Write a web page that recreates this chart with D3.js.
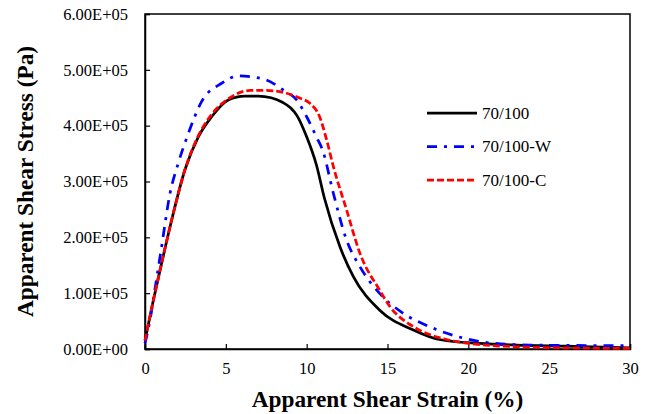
<!DOCTYPE html>
<html>
<head>
<meta charset="utf-8">
<script src="https://cdn.jsdelivr.net/npm/d3@7"></script>
<style>
  body { margin: 0; background: #fff; }
</style>
</head>
<body>
<div id="chart"></div>
<script>
// strain (%) and apparent shear stress (Pa)
const strainBase = [0, 0.5, 1, 1.65, 2.47, 3.3, 4.12, 5.15, 6.18, 7.0, 7.8, 8.5, 9.0, 9.4, 10.0, 10.6, 11.1, 12.06, 12.88, 14.5, 16.6, 18.2, 20.7, 23, 26, 30];
const stressBase = [0.15e5, 0.85e5, 1.5e5, 2.31e5, 3.21e5, 3.80e5, 4.16e5, 4.46e5, 4.53e5, 4.53e5, 4.50e5, 4.42e5, 4.32e5, 4.18e5, 3.80e5, 3.30e5, 2.70e5, 1.83e5, 1.30e5, 0.70e5, 0.34e5, 0.17e5, 0.10e5, 0.07e5, 0.05e5, 0.02e5];

const strainW = [0, 0.3, 0.62, 1.0, 1.55, 2.06, 2.68, 3.5, 4.74, 5.77, 6.7, 7.5, 8.55, 9.38, 10.0, 10.6, 11.0, 11.65, 12.47, 13.3, 14.5, 15.97, 17.6, 19.5, 21.3, 23.8, 30];
const stressW = [0.1e5, 0.5e5, 1.08e5, 1.78e5, 2.79e5, 3.33e5, 3.86e5, 4.43e5, 4.76e5, 4.89e5, 4.87e5, 4.82e5, 4.64e5, 4.46e5, 4.16e5, 3.80e5, 3.55e5, 2.79e5, 1.95e5, 1.47e5, 1.0e5, 0.64e5, 0.40e5, 0.21e5, 0.11e5, 0.07e5, 0.06e5];

const strainC = [0, 0.5, 1, 1.65, 2.47, 3.3, 4.12, 5.26, 6.5, 7.5, 8.76, 9.6, 10.2, 10.8, 11.24, 11.65, 12.47, 13.3, 14.5, 15.15, 16.6, 18.66, 20.7, 23, 26, 30];
const stressC = [0.15e5, 0.85e5, 1.5e5, 2.31e5, 3.21e5, 3.82e5, 4.20e5, 4.50e5, 4.63e5, 4.63e5, 4.58e5, 4.49e5, 4.40e5, 4.16e5, 3.74e5, 3.27e5, 2.49e5, 1.71e5, 1.06e5, 0.76e5, 0.40e5, 0.17e5, 0.08e5, 0.04e5, 0.02e5, 0.01e5];

const seriesNames = ["70/100", "70/100-W", "70/100-C"];
const xTicks = [0, 5, 10, 15, 20, 25, 30];
const yTicks = [0, 1e5, 2e5, 3e5, 4e5, 5e5, 6e5];

const FONT = "Liberation Serif";

const width = 654, height = 414;
const margin = { left: 145, right: 24, top: 14, bottom: 65 };

const svg = d3.select("#chart").append("svg")
    .attr("width", width).attr("height", height);

const x = d3.scaleLinear().domain([0, 30]).range([margin.left, width - margin.right]);
const y = d3.scaleLinear().domain([0, 6e5]).range([height - margin.bottom, margin.top]);

// frame
svg.append("rect")
    .attr("x", x(0)).attr("y", y(6e5))
    .attr("width", x(30) - x(0)).attr("height", y(0) - y(6e5))
    .attr("fill", "none").attr("stroke", "#000").attr("stroke-width", 1.5);

// axes, ticks pointing inward
const xAxis = svg.append("g")
    .attr("transform", `translate(0,${y(0)})`)
    .call(d3.axisBottom(x).tickValues(xTicks).tickSize(-5).tickPadding(13).tickFormat(d3.format("d")));
const yAxis = svg.append("g")
    .attr("transform", `translate(${x(0)},0)`)
    .call(d3.axisLeft(y).tickValues(yTicks).tickSize(-5).tickPadding(17)
        .tickFormat(d => d.toExponential(2).toUpperCase().replace(/E\+(\d)$/, "E+0$1")));

[xAxis, yAxis].forEach(a => {
    a.attr("font-family", FONT).attr("font-size", "16.5px");
    a.select(".domain").attr("stroke", "#000").attr("stroke-width", 1.5);
    a.selectAll(".tick line").attr("stroke", "#000").attr("stroke-width", 1.2);
    a.selectAll(".tick text").attr("fill", "#000");
});

// titles
svg.append("text")
    .attr("x", (x(0) + x(30)) / 2).attr("y", 407)
    .attr("text-anchor", "middle")
    .attr("font-family", FONT).attr("font-size", "23.3px").attr("font-weight", "bold")
    .text("Apparent Shear Strain (%)");
svg.append("text")
    .attr("transform", `translate(33,${(y(0) + y(6e5)) / 2}) rotate(-90)`)
    .attr("text-anchor", "middle")
    .attr("font-family", FONT).attr("font-size", "23.3px").attr("font-weight", "bold")
    .text("Apparent Shear Stress (Pa)");

const styles = [
    { color: "#000", dash: null },
    { color: "#0000ff", dash: "10,7,3,7" },
    { color: "#ff0000", dash: "7,3" }
];
const data = [
    d3.zip(strainBase, stressBase),
    d3.zip(strainW, stressW),
    d3.zip(strainC, stressC)
];

const line = d3.line().x(d => x(d[0])).y(d => y(d[1])).curve(d3.curveMonotoneX);

data.forEach((pts, i) => {
    svg.append("path")
        .datum(pts)
        .attr("d", line)
        .attr("fill", "none")
        .attr("stroke", styles[i].color)
        .attr("stroke-width", 2.75)
        .attr("stroke-dasharray", styles[i].dash);
});

// legend
const legend = svg.append("g").attr("transform", "translate(427,113)");
seriesNames.forEach((name, i) => {
    const g = legend.append("g").attr("transform", `translate(0,${i * 33.5})`);
    g.append("line")
        .attr("x1", 0).attr("x2", 50).attr("y1", 0).attr("y2", 0)
        .attr("stroke", styles[i].color).attr("stroke-width", 2.75)
        .attr("stroke-dasharray", styles[i].dash);
    g.append("text")
        .attr("x", 55).attr("y", 0).attr("dy", "0.35em")
        .attr("font-family", FONT).attr("font-size", "17px")
        .text(name);
});
</script>
</body>
</html>
